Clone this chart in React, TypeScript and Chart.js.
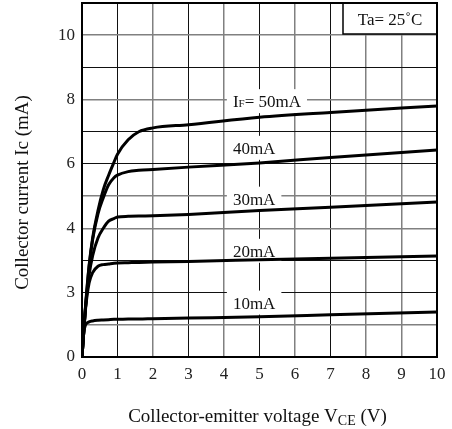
import React, { useEffect, useRef } from 'react';
import { Chart, registerables } from 'chart.js';

Chart.register(...registerables);

// ---- data ----
const vce = [0, 0.05, 0.1, 0.2, 0.3, 0.45, 0.6, 0.75, 0.9, 1.0, 1.3, 1.6, 2, 3, 5, 7, 10];
const ic50 = [0, 0.8, 1.6, 2.85, 3.7, 4.55, 5.2, 5.65, 6.05, 6.3, 6.75, 7.0, 7.12, 7.22, 7.45, 7.6, 7.8];
const ic40 = [0, 0.8, 1.55, 2.8, 3.65, 4.45, 4.95, 5.35, 5.57, 5.65, 5.76, 5.8, 5.83, 5.9, 6.03, 6.2, 6.43];
const ic30 = [0, 0.8, 1.55, 2.55, 3.15, 3.7, 4.0, 4.22, 4.3, 4.35, 4.37, 4.38, 4.39, 4.43, 4.55, 4.65, 4.82];
const ic20 = [0, 0.8, 1.5, 2.3, 2.62, 2.82, 2.87, 2.89, 2.91, 2.92, 2.93, 2.94, 2.95, 2.97, 3.02, 3.07, 3.14];
const ic10 = [0, 0.75, 1.0, 1.09, 1.12, 1.14, 1.15, 1.16, 1.17, 1.17, 1.18, 1.18, 1.19, 1.21, 1.25, 1.31, 1.4];

const seriesValues = [ic50, ic40, ic30, ic20, ic10];
const curveLabels = ['50mA', '40mA', '30mA', '20mA', '10mA'];
const curveLabelX = [4.25, 4.25, 4.25, 4.25, 4.25];
const curveLabelY = [7.95, 6.5, 4.92, 3.3, 1.69];

const yTickValues = [0, 2, 4, 6, 8, 10];
const yTickTexts = ['0', '3', '4', '6', '8', '10'];

const FONT = "'Liberation Serif', 'Times New Roman', serif";
const darkY = new Set([11, 9, 7, 6, 3, 2, 0]);
const darkX = new Set([0, 1, 3, 5, 7, 10]);

type Part = [string, boolean];

function measureParts(ctx: CanvasRenderingContext2D, parts: Part[], size: number, sub: number) {
  let w = 0;
  for (const [t, s] of parts) {
    ctx.font = `${s ? sub : size}px ${FONT}`;
    w += ctx.measureText(t).width;
  }
  return w;
}

function drawParts(ctx: CanvasRenderingContext2D, parts: Part[], x: number, y: number, size: number, sub: number, subDrop: number) {
  let cx = x;
  ctx.textAlign = 'left';
  ctx.textBaseline = 'alphabetic';
  for (const [t, s] of parts) {
    ctx.font = `${s ? sub : size}px ${FONT}`;
    ctx.fillText(t, cx, s ? y + subDrop : y);
    cx += ctx.measureText(t).width;
  }
}

const decorPlugin = {
  id: 'decor',
  beforeDatasetsDraw(chart: any) {
    const { ctx, scales } = chart;
    const xs = scales.x;
    const ys = scales.y;
    ctx.save();
    curveLabels.forEach((lab, i) => {
      const parts: Part[] = i === 0 ? [['I', false], ['F', true], ['= ' + lab, false]] : [[lab, false]];
      const px = xs.getPixelForValue(curveLabelX[i]);
      const py = ys.getPixelForValue(curveLabelY[i]);
      const w = measureParts(ctx, parts, 17, 11);
      ctx.fillStyle = '#fff';
      ctx.fillRect(px - 6, py - 12, w + 12, 24);
      ctx.fillStyle = '#111';
      drawParts(ctx, parts, px, py + 6, 17, 11, 0);
    });
    ctx.restore();
  },
  afterDraw(chart: any) {
    const { ctx, chartArea } = chart;
    const { left, right, top, bottom } = chartArea;
    ctx.save();
    // frame
    ctx.strokeStyle = '#000';
    ctx.lineWidth = 2;
    ctx.strokeRect(left, top, right - left, bottom - top);
    // Ta box
    ctx.fillStyle = '#fff';
    ctx.fillRect(343, top, right - 343, 31);
    ctx.lineWidth = 1.5;
    ctx.strokeRect(343, top, right - 343, 31);
    ctx.lineWidth = 2;
    ctx.beginPath();
    ctx.moveTo(343, top);
    ctx.lineTo(right, top);
    ctx.lineTo(right, top + 31);
    ctx.stroke();
    ctx.fillStyle = '#111';
    ctx.font = `17px ${FONT}`;
    ctx.textAlign = 'center';
    ctx.textBaseline = 'alphabetic';
    ctx.fillText('Ta= 25˚C', (343 + right) / 2, top + 22);
    // x title
    const xparts: Part[] = [['Collector-emitter voltage V', false], ['CE', true], [' (V)', false]];
    const xw = measureParts(ctx, xparts, 19, 14);
    ctx.fillStyle = '#111';
    drawParts(ctx, xparts, 257.5 - xw / 2, 422, 19, 14, 3);
    // y title
    ctx.translate(28, 192.5);
    ctx.rotate(-Math.PI / 2);
    ctx.font = `19px ${FONT}`;
    ctx.textAlign = 'center';
    ctx.textBaseline = 'alphabetic';
    ctx.fillText('Collector current Ic (mA)', 0, 0);
    ctx.restore();
  },
};

export default function App() {
  const ref = useRef<HTMLCanvasElement | null>(null);
  useEffect(() => {
    document.body.style.margin = '0';
    const canvas = ref.current!;
    const chart = new Chart(canvas, {
      type: 'line',
      data: {
        datasets: seriesValues.map((vals, i) => ({
          label: curveLabels[i],
          data: vce.map((x, j) => ({ x, y: vals[j] })),
          borderColor: '#000',
          borderWidth: 3,
          pointRadius: 0,
          fill: false,
          cubicInterpolationMode: 'monotone' as const,
        })),
      },
      options: {
        animation: false,
        responsive: false,
        devicePixelRatio: 1,
        layout: { padding: { top: 3, right: 15, left: 0, bottom: 0 } },
        plugins: { legend: { display: false }, tooltip: { enabled: false } },
        scales: {
          x: {
            type: 'linear',
            min: 0,
            max: 10,
            ticks: {
              stepSize: 1,
              padding: 7,
              color: '#222',
              font: { family: FONT, size: 17 },
              maxRotation: 0,
              autoSkip: false,
            },
            grid: {
              drawTicks: false,
              color: (c: any) => (darkX.has(c.tick?.value) ? '#111' : '#808080'),
              lineWidth: (c: any) => (darkX.has(c.tick?.value) ? 1 : 1.5),
            },
            border: { display: true, color: '#000', width: 2 },
            afterFit: (s: any) => {
              s.height = 72;
              s.paddingLeft = 0;
              s.paddingRight = 0;
            },
          },
          y: {
            type: 'linear',
            min: 0,
            max: 11,
            ticks: {
              stepSize: 1,
              padding: 7,
              color: '#222',
              font: { family: FONT, size: 17 },
              autoSkip: false,
              callback: (v: any) => {
                const k = yTickValues.indexOf(Number(v));
                return k >= 0 ? yTickTexts[k] : '';
              },
            },
            grid: {
              drawTicks: false,
              color: (c: any) => (darkY.has(c.tick?.value) ? '#111' : '#808080'),
              lineWidth: (c: any) => (darkY.has(c.tick?.value) ? 1 : 1.5),
            },
            border: { display: true, color: '#000', width: 2 },
            afterFit: (s: any) => {
              s.width = 82;
              s.paddingTop = 0;
              s.paddingBottom = 0;
            },
          },
        },
      },
      plugins: [decorPlugin],
    });
    return () => chart.destroy();
  }, []);
  return <canvas ref={ref} width={452} height={429} style={{ display: 'block' }} />;
}
